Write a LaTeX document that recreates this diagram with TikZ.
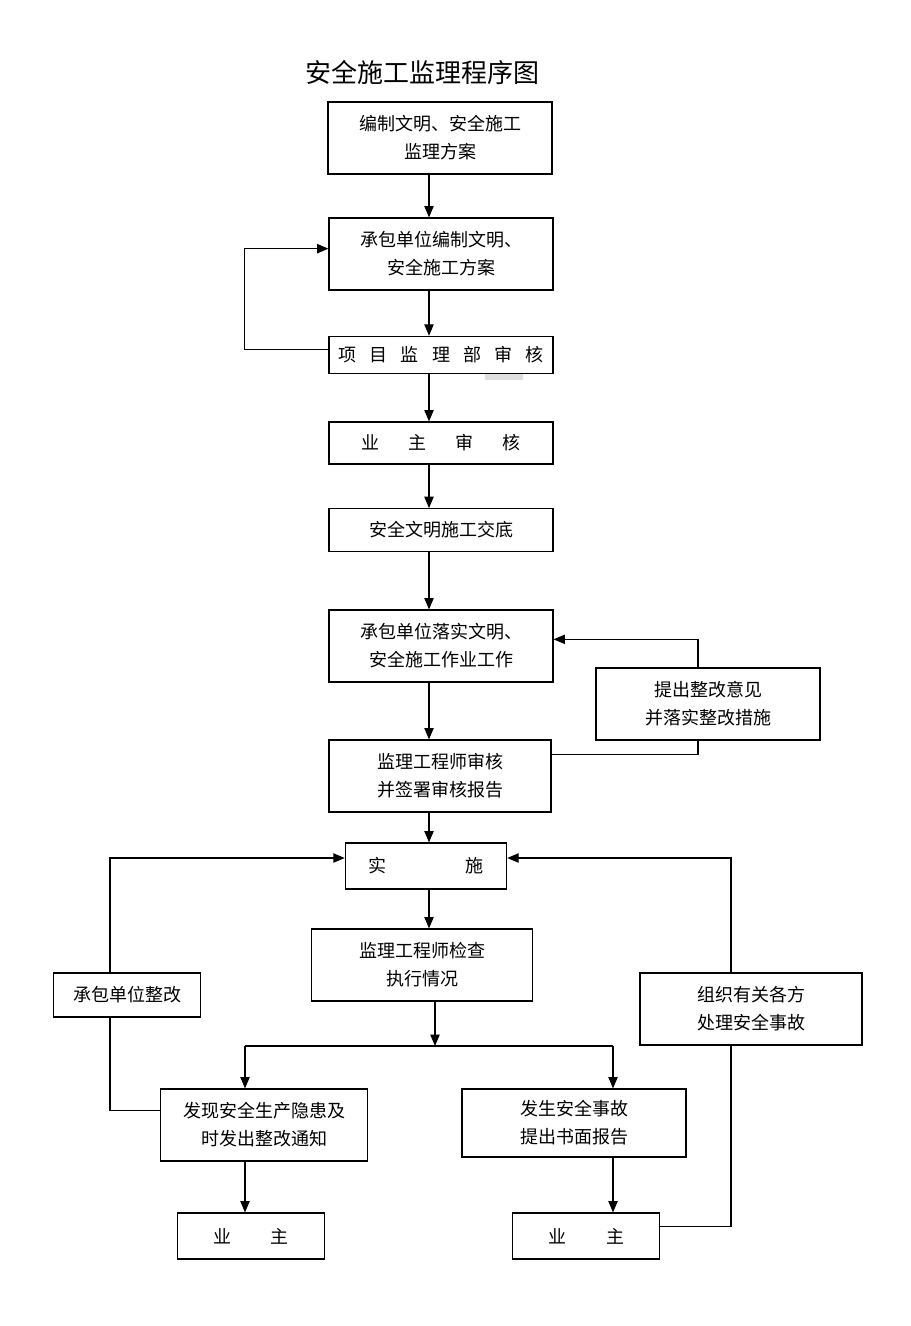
\documentclass[tikz,border=0pt]{standalone}
\usepackage{fontspec}
\newfontfamily\cjk{Noto Sans CJK SC}
\usepackage{tikz}
\usetikzlibrary{arrows.meta}
\usetikzlibrary{positioning}

\begin{document}
\begin{tikzpicture}[x=0.75pt, y=-0.75pt,
    box/.style={draw, line width=0.9pt, align=center, inner sep=0pt,
      font=\cjk\fontsize{13.5pt}{21pt}\selectfont},
    wide/.style={box, minimum width=168pt, minimum height=54pt},
    flat/.style={box, minimum width=168pt, minimum height=30pt},
    flow/.style={line width=0.8pt, -{Triangle[length=8.5pt,width=7pt]}},
    link/.style={line width=0.8pt}]
  \useasboundingbox (0,0) rectangle (910,1326);
  \node (title) [font=\cjk\fontsize{19.5pt}{24pt}\selectfont] at (422,73) {安全施工监理程序图};
  \node (plan) [wide] at (440,138) {编制文明、安全施工\\监理方案};
  \node (scheme) [wide] at (441,254) {承包单位编制文明、\\安全施工方案};
  \node (deptcheck) [flat, minimum height=28pt] at (441,355)
    {项\hspace{10pt}目\hspace{10pt}监\hspace{10pt}理\hspace{10pt}部\hspace{10pt}审\hspace{10pt}核};
  \fill [gray!25] (485,374) rectangle (523,380);
  \node (ownercheck) [flat, minimum height=31.5pt] at (441,443)
    {业\hspace{22pt}主\hspace{22pt}审\hspace{22pt}核};
  \node (briefing) [flat, minimum height=32pt] at (441,530) {安全文明施工交底};
  \node (execute) [wide] at (441,646) {承包单位落实文明、\\安全施工作业工作};
  \node (rectify) [wide] at (708,704) {提出整改意见\\并落实整改措施};
  \node (engcheck) [wide, minimum width=166.5pt] at (440,776) {监理工程师审核\\并签署审核报告};
  \node (implement) [box, minimum width=121pt, minimum height=34.5pt] at (426,866)
    {实\hspace{59pt}施};
  \node (inspect) [wide, minimum width=166pt] at (422,965) {监理工程师检查\\执行情况};
  \node (fixup) [box, minimum width=110pt, minimum height=33pt] at (127,995) {承包单位整改};
  \node (accident) [wide, minimum width=166.5pt] at (751,1009) {组织有关各方\\处理安全事故};
  \node (notice) [wide, minimum width=155pt] at (264,1125) {发现安全生产隐患及\\时发出整改通知};
  \node (report) [wide, minimum height=51pt] at (574,1123) {发生安全事故\\提出书面报告};
  \node (ownerl) [box, minimum width=110pt, minimum height=34.5pt] at (251,1236)
    {业\hspace{30pt}主};
  \node (ownerr) [box, minimum width=110pt, minimum height=34.5pt] at (586,1236)
    {业\hspace{30pt}主};

  \coordinate (spine) at (429,0);
  \coordinate (gx) at (698,0);
  \coordinate (kx) at (110,0);
  \coordinate (lx) at (731,0);
  \coordinate (split) at (435,1046);
  \coordinate (lb) at (245,1046);
  \coordinate (rb) at (613,1046);

  \foreach \from/\to in {plan/scheme, scheme/deptcheck, deptcheck/ownercheck,
    ownercheck/briefing, briefing/execute, execute/engcheck, engcheck/implement,
    implement/inspect}{
    \draw [flow] (\from.south -| spine) -- (\to.north -| spine);
  }
  \draw [flow] ([yshift=4pt]deptcheck.west) -- ++(-84,0) |- ([yshift=4pt]scheme.west);
  \draw [link] ([yshift=16pt]engcheck.east) -- ([yshift=16pt]engcheck.east -| gx) -- (rectify.south -| gx);
  \draw [flow] (rectify.north -| gx) |- ([yshift=5pt]execute.east);
  \draw [flow] (fixup.north -| kx) |- ([yshift=6pt]implement.west);
  \draw [link] ([yshift=11pt]notice.west) -| (fixup.south -| kx);
  \draw [flow] (accident.north -| lx) |- ([yshift=6pt]implement.east);
  \draw [link] ([yshift=7pt]ownerr.east) -| (accident.south -| lx);
  \draw [flow] (inspect.south -| split) -- (split);
  \draw [link] (lb) -- (rb);
  \draw [flow] (lb) -- (notice.north -| lb);
  \draw [flow] (rb) -- (report.north -| rb);
  \draw [flow] (notice.south -| lb) -- (ownerl.north -| lb);
  \draw [flow] (report.south -| rb) -- (ownerr.north -| rb);
\end{tikzpicture}
\end{document}
